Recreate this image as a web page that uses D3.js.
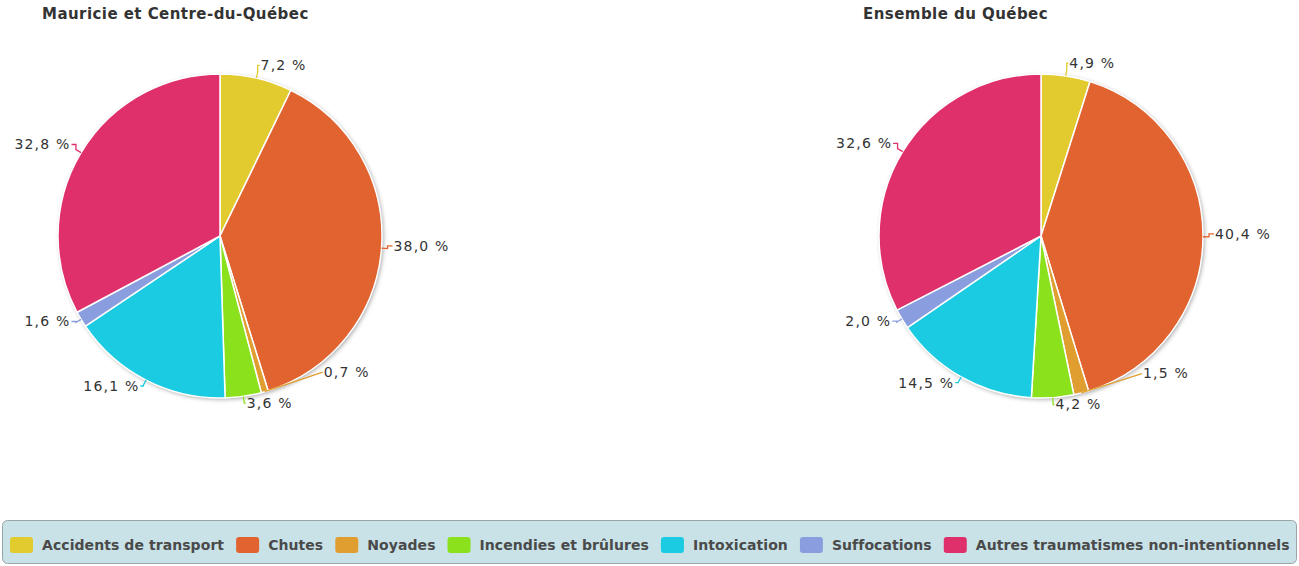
<!DOCTYPE html>
<html><head><meta charset="utf-8">
<script src="https://cdn.jsdelivr.net/npm/d3@7"></script>
<style>
html,body{margin:0;padding:0;background:#fff;}
svg{display:block;}
</style></head>
<body>
<svg id="chart" width="1299" height="566"></svg>
<script>
const categories = ["Accidents de transport","Chutes","Noyades","Incendies et brûlures","Intoxication","Suffocations","Autres traumatismes non-intentionnels"];
const colors = ["#e2cb2f","#e16330","#e19e30","#8be11c","#1bcbe1","#8a9ddf","#e0306c"];
const titles = ["Mauricie et Centre-du-Québec","Ensemble du Québec"];
const valuesMauricie = [7.2, 38.0, 0.7, 3.6, 16.1, 1.6, 32.8];
const valuesQuebec = [4.9, 40.4, 1.5, 4.2, 14.5, 2.0, 32.6];

const svg = d3.select("#chart");
const defs = svg.append("defs");
const f = defs.append("filter").attr("id","shadow").attr("x","-20%").attr("y","-20%").attr("width","140%").attr("height","140%");
f.append("feDropShadow").attr("dx",1.5).attr("dy",1.5).attr("stdDeviation",2).attr("flood-color","#000").attr("flood-opacity",0.35);

const fmt = v => d3.format(".1f")(v).replace(".", ",") + " %";

const charts = [
  {title: titles[0], values: valuesMauricie, cx: 220, cy: 236, tx: 42},
  {title: titles[1], values: valuesQuebec, cx: 1041, cy: 236, tx: 863}
];
const r = 162;

charts.forEach(ch => {
  svg.append("text").attr("x", ch.tx).attr("y", 19)
    .attr("font-family","DejaVu Sans").attr("font-weight","bold").attr("font-size","15px")
    .attr("letter-spacing","0.45px")
    .attr("fill","#333").text(ch.title);

  const g = svg.append("g").attr("transform", `translate(${ch.cx},${ch.cy})`);
  const pie = d3.pie().sort(null).value(d => d.v);
  const arcs = pie(ch.values.map((v,i)=>({v, i})));
  const arc = d3.arc().innerRadius(0).outerRadius(r);

  g.append("circle").attr("r", r).attr("fill","#fff").attr("filter","url(#shadow)");
  g.selectAll("path.slice").data(arcs).join("path").attr("class","slice")
    .attr("d", arc).attr("fill", d => colors[d.data.i])
    .attr("stroke","#fff").attr("stroke-width",1.5).attr("stroke-linejoin","round");

  // labels
  const R = r + 10;
  const labels = arcs.map(d => {
    const a = (d.startAngle + d.endAngle)/2;
    const s = Math.sin(a), c = Math.cos(a);
    return {d, a, side: s >= 0 ? 1 : -1,
      ax: r*s, ay: -r*c, ex: (r+6)*s, ey: -(r+6)*c,
      x: R*s, y: -R*c - 3, moved:false};
  });
  [1,-1].forEach(side => {
    const L = labels.filter(l => l.side === side).sort((p,q) => q.y - p.y);
    for (let k=1;k<L.length;k++){
      const prev = L[k-1], cur = L[k];
      if (Math.abs(prev.y - cur.y) < 16 && Math.abs(prev.x - cur.x) < 50) {
        cur.y = prev.y - 31;
        const R2 = r + 8;
        cur.x = side * Math.sqrt(Math.max(0, R2*R2 - cur.y*cur.y));
        cur.moved = true;
      }
    }
  });
  labels.forEach(l => {
    const col = colors[l.d.data.i];
    const endX = l.x + l.side*1;
    let p;
    if (l.moved) p = `M${l.ax},${l.ay}L${endX},${l.y}`;
    else p = `M${l.ax},${l.ay}L${l.ex},${l.ey}L${l.ex},${l.y}L${endX},${l.y}`;
    g.append("path").attr("d", p).attr("fill","none").attr("stroke", col).attr("stroke-width",1.3);
    g.append("text").attr("x", l.x + l.side*2).attr("y", l.y)
      .attr("dy","0.35em")
      .attr("text-anchor", l.side > 0 ? "start" : "end")
      .attr("font-family","DejaVu Sans").attr("font-size","14px").attr("letter-spacing","1.2px")
      .attr("fill","#333").text(fmt(l.d.data.v));
  });
});

// legend
const lg = svg.append("g");
lg.append("rect").attr("x",2.5).attr("y",520.5).attr("width",1294).attr("height",43).attr("rx",5)
  .attr("fill","#c8e2e8").attr("stroke","#9aa3a6").attr("stroke-width",1);
let lx = 10;
categories.forEach((c,i) => {
  lg.append("rect").attr("x",lx).attr("y",537).attr("width",23).attr("height",16).attr("rx",3)
    .attr("fill", colors[i]);
  const t = lg.append("text").attr("x", lx+32).attr("y",545).attr("dy","0.35em")
    .attr("font-family","DejaVu Sans").attr("font-weight","bold").attr("font-size","14px")
    .attr("letter-spacing","0.07px")
    .attr("fill","#4a4a4a").text(c);
  const w = t.node().getComputedTextLength();
  lx = lx + 32 + w + 12;
});
</script>
</body></html>
